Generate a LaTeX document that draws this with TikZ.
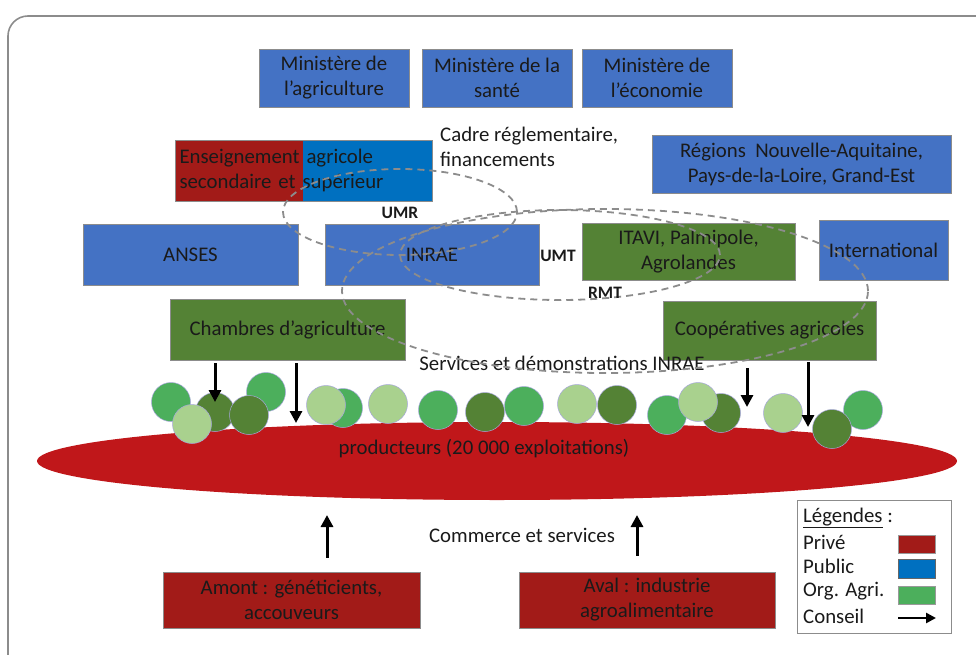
\documentclass[tikz,border=0pt]{standalone}
\usepackage{fontspec}
\setmainfont{Carlito}
\usetikzlibrary{arrows.meta,shapes.geometric}
\definecolor{pubblue}{HTML}{4472C4}
\definecolor{ensblue}{HTML}{0070C0}
\definecolor{privred}{HTML}{A21B18}
\definecolor{ellred}{HTML}{C0171A}
\definecolor{agrigreen}{HTML}{548235}
\definecolor{midgreen}{HTML}{4CAF5C}
\definecolor{lightgreen}{HTML}{A9D18E}
\definecolor{txtcol}{HTML}{1A1A1A}
\definecolor{dashgray}{HTML}{8C8C8C}
\tikzset{
	txt/.style={font=\fontsize{20.8}{25}\selectfont, text=txtcol},
	boxbase/.style 2 args={txt, draw=black!45, line width=0.7pt, align=center,
			minimum width=#1, minimum height=#2, inner sep=2pt},
	pub/.style 2 args={boxbase={#1}{#2}, fill=pubblue},
	agri/.style 2 args={boxbase={#1}{#2}, fill=agrigreen},
	priv/.style 2 args={boxbase={#1}{#2}, fill=privred},
	tag/.style={font=\fontsize{17.5}{19}\selectfont\bfseries, text=txtcol, inner sep=0pt},
	dashring/.style={draw=dashgray, line width=1.8pt, dash pattern=on 7pt off 5pt},
	conseil/.style={-{Triangle[length=12pt,width=12pt]}, line width=3pt, black},
	pion/.style={draw=black!40!blue!35, line width=0.5pt}
}

\begin{document}
\begin{tikzpicture}[x=1pt, y=-1pt]
	\useasboundingbox (0,0) rectangle (976,655);
	\draw[gray!90, line width=1.6pt, rounded corners=20pt] (8,16) rectangle (1000,680);

	\node[pub={150}{58}] (minagri) at (334,78) {Ministère de\\l’agriculture};
	\node[pub={150}{58}] (minsante) at (497,78) {Ministère de la\\santé};
	\node[pub={150}{58}] (mineco) at (657,78) {Ministère de\\l’économie};

	\node[boxbase={257}{61}, fill=ensblue, align=left, text width=248,
		path picture={\fill[privred] (path picture bounding box.south west)
				rectangle ([xshift=128pt]path picture bounding box.north west);}]
		(ens) at (303.5,170.5) {Enseignement agricole\\secondaire et supérieur};
	\node[txt, align=left, anchor=west, inner sep=0pt] (cadre) at (440,147)
		{Cadre réglementaire,\\financements};
	\node[pub={299}{58}] (regions) at (801.5,164) {Régions\ \ Nouvelle-Aquitaine,\\Pays-de-la-Loire,\ Grand-Est};

	\node[pub={215}{61}] (anses) at (190.5,254.5) {ANSES};
	\node[pub={214}{61}] (inrae) at (432,254.5) {INRAE};
	\node[agri={213}{57}] (itavi) at (688.5,251.5) {ITAVI, Palmipole,\\Agrolandes};
	\node[pub={129}{60}] (intl) at (883.5,250) {International};

	\node[agri={235}{61}] (cha) at (287.5,329.5) {Chambres d’agriculture};
	\node[agri={213}{59}] (coop) at (769.5,330.5) {Coopératives agricoles};
	\node[txt, inner sep=0pt] (serv) at (562,363) {Services et démonstrations INRAE};

	\draw[dashring] (400,212) ellipse [x radius=117pt, y radius=43pt];
	\draw[dashring] (560,255) ellipse [x radius=160pt, y radius=45pt];
	\draw[dashring] (605,291) ellipse [x radius=263pt, y radius=82pt];
	\node[tag] (umr) at (400,213) {UMR};
	\node[tag] (umt) at (558,256) {UMT};
	\node[tag] (rmt) at (605,293) {RMT};

	\node[ellipse, fill=ellred, inner sep=0pt, minimum width=920, minimum height=78] (prod) at (497,461) {};
	\node[txt, inner sep=0pt] (prodtxt) at (484,449) {producteurs (20 000 exploitations)};

	\foreach \px/\py/\pc in {171/402/midgreen, 215/412/agrigreen, 266/392/midgreen,
			249/415/agrigreen, 192/424/lightgreen, 343/408/midgreen, 326/405/lightgreen,
			388/404/lightgreen, 438/410/midgreen, 485/412/agrigreen, 524/406/midgreen,
			577/404/lightgreen, 617/405/agrigreen, 667/415/midgreen, 721/413/agrigreen,
			698/402/lightgreen, 783/413/lightgreen, 863/410/midgreen, 832/429/agrigreen}
		\draw[pion, fill=\pc] (\px,\py) circle [radius=19.5pt];

	\coordinate (d1) at (215,402);
	\coordinate (d2) at (296,423);
	\coordinate (d3) at (747,407);
	\coordinate (d4) at (808,427);
	\draw[conseil] ([yshift=-3pt]cha.south -| d1) -- (d1);
	\draw[conseil] ([yshift=-3pt]cha.south -| d2) -- (d2);
	\draw[conseil] ([yshift=-8pt]coop.south -| d3) -- (d3);
	\draw[conseil] ([yshift=-2pt]coop.south -| d4) -- (d4);

	\node[priv={257}{56}] (amont) at (291.5,600) {Amont : généticients,\\accouveurs};
	\node[priv={256}{56}] (aval) at (647,600) {Aval : industrie\\agroalimentaire};
	\node[txt, inner sep=0pt] (commerce) at (522,535) {Commerce et services};
	\coordinate (u1) at (327,515);
	\coordinate (u2) at (637,515);
	\draw[conseil] ([yshift=14pt]amont.north -| u1) -- (u1);
	\draw[conseil] ([yshift=16pt]aval.north -| u2) -- (u2);

	\node[draw=black!45, line width=0.8pt, fill=white, minimum width=154, minimum height=133] (leg) at (874,566.5) {};
	\node[txt, anchor=west, inner sep=0pt] (legt) at (803,518) {\underline{Légendes} :};
	\node[txt, anchor=west, inner sep=0pt] (legpriv) at (803,542) {Privé};
	\node[txt, anchor=west, inner sep=0pt] (legpub) at (803,566) {Public};
	\node[txt, anchor=west, inner sep=0pt] (legagri) at (803,591) {Org. Agri.};
	\node[txt, anchor=west, inner sep=0pt] (legcons) at (803,616) {Conseil};
	\node[draw=black!40, fill=privred, minimum width=37, minimum height=18, inner sep=0pt] (swpriv) at (917,544) {};
	\node[draw=black!60, fill=ensblue, minimum width=37, minimum height=19, inner sep=0pt] (swpub) at (917,568.5) {};
	\node[draw=black!40, fill=midgreen, minimum width=37, minimum height=18, inner sep=0pt] (swagri) at (917,595) {};
	\coordinate (arrs) at (898,618);
	\coordinate (arre) at (936,618);
	\draw[-{Triangle[length=10pt,width=10pt]}, line width=2.5pt] (arrs) -- (arre);
\end{tikzpicture}
\end{document}
